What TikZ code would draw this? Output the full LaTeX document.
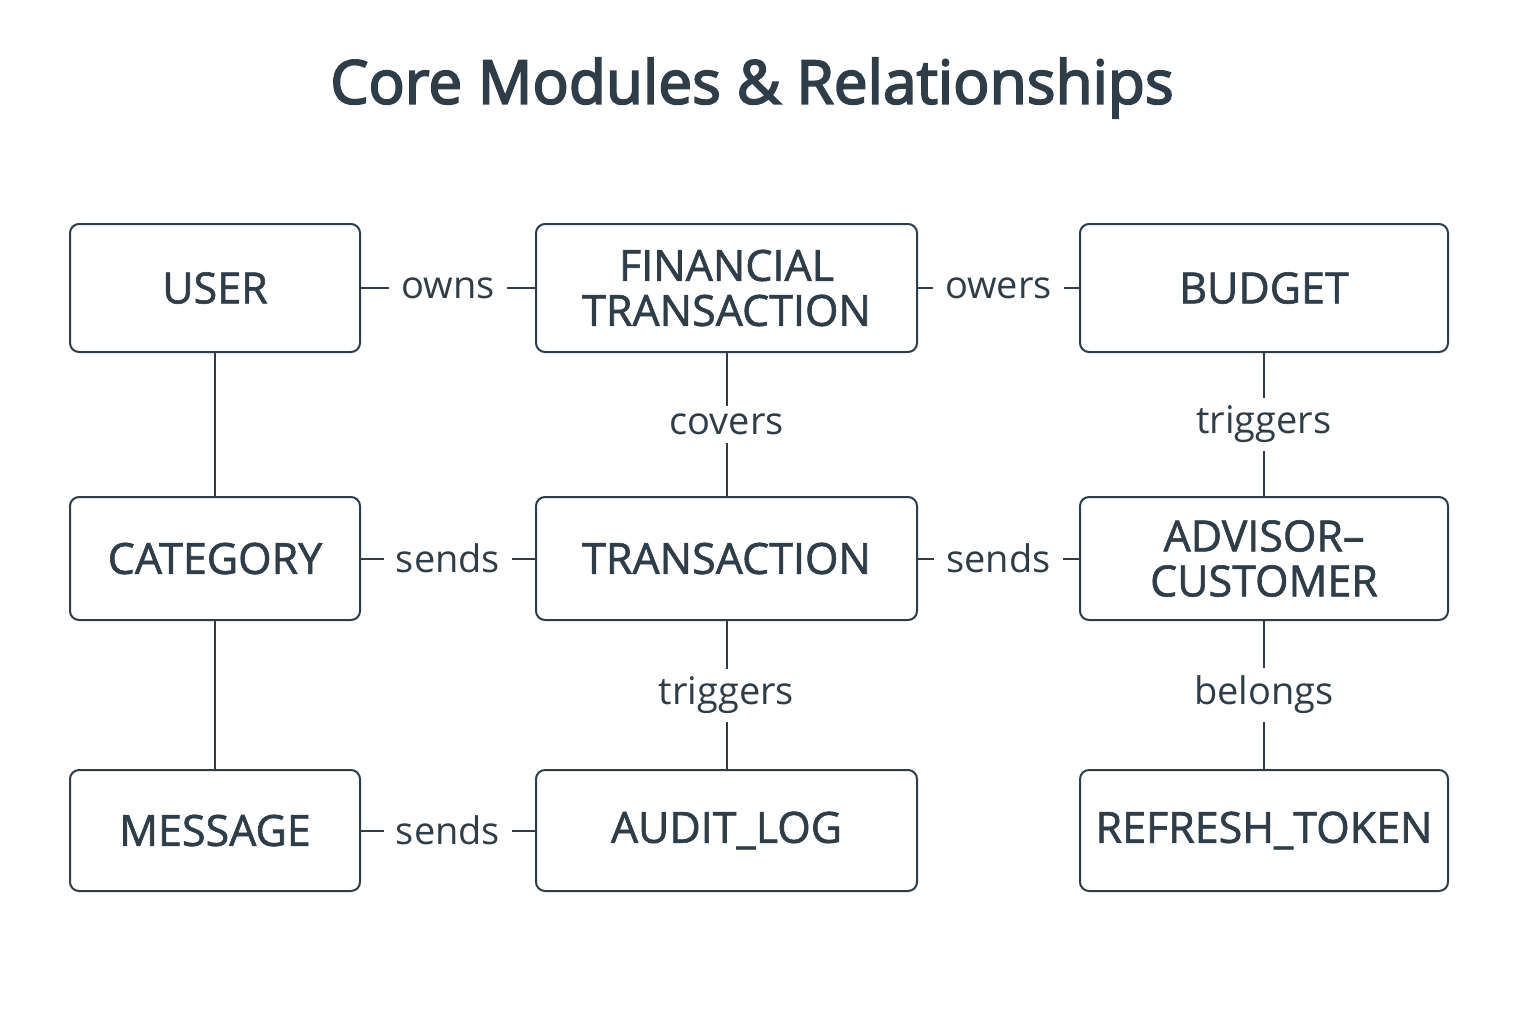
\documentclass[tikz,border=0pt]{standalone}
\usepackage{fontspec}
\setmainfont{Open Sans}
\newfontfamily\medfont[FakeBold=1.4]{Open Sans}
\newfontfamily\titlefont[FakeBold=3]{Open Sans}
\definecolor{ink}{HTML}{2E3D48}
\begin{document}
\begin{tikzpicture}[x=0.5pt,y=-0.5pt,
  every node/.style={text=ink},
  box/.style={draw=ink, line width=1pt, rounded corners=4.5pt, fill=white, align=center,
    font=\medfont\fontsize{21.5pt}{22.5pt}\selectfont, inner sep=0pt},
  lbl/.style={fill=white, font=\fontsize{19pt}{20pt}\selectfont, inner xsep=6pt, inner ysep=3pt},
  vlbl/.style={fill=white, font=\fontsize{19pt}{20pt}\selectfont, inner xsep=4pt, inner ysep=4pt},
  link/.style={draw=ink, line width=1pt}]
\useasboundingbox (0,0) rectangle (1536,1024);
\node[font=\titlefont\fontsize{30.2pt}{36pt}\selectfont] (title) at (752,88) {Core Modules \& Relationships};
% row 1
\node[box, minimum width=145pt, minimum height=64pt] (user) at (215,288) {USER};
\node[box, minimum width=190.5pt, minimum height=64pt] (fin) at (726.5,288) {FINANCIAL\\TRANSACTION};
\node[box, minimum width=184pt, minimum height=64pt] (budget) at (1264,288) {BUDGET};
% row 2
\node[box, minimum width=145pt, minimum height=61.5pt] (cat) at (215,558.5) {CATEGORY};
\node[box, minimum width=190.5pt, minimum height=61.5pt] (trans) at (726.5,558.5) {TRANSACTION};
\node[box, minimum width=184pt, minimum height=61.5pt] (adv) at (1264,558.5) {ADVISOR–\\CUSTOMER};
% row 3
\node[box, minimum width=145pt, minimum height=60.5pt] (msg) at (215,830.5) {MESSAGE};
\node[box, minimum width=190.5pt, minimum height=60.5pt] (audit) at (726.5,830.5) {AUDIT\_LOG};
\node[box, minimum width=184pt, minimum height=60.5pt] (refresh) at (1264,830.5) {REFRESH\_TOKEN};
% horizontal links
\draw[link] (user) -- node[lbl] {owns} (fin);
\draw[link] (fin) -- node[lbl] {owers} (budget);
\draw[link] (cat) -- node[lbl] {sends} (trans);
\draw[link] (trans) -- node[lbl] {sends} (adv);
\draw[link] (msg) -- node[lbl] {sends} (audit);
% vertical links
\draw[link] (user) -- (cat);
\draw[link] (cat) -- (msg);
\draw[link] (fin) -- node[vlbl] {covers} (trans);
\draw[link] (budget) -- node[vlbl] {triggers} (adv);
\draw[link] (trans) -- node[vlbl] {triggers} (audit);
\draw[link] (adv) -- node[vlbl] {belongs} (refresh);
\end{tikzpicture}
\end{document}
